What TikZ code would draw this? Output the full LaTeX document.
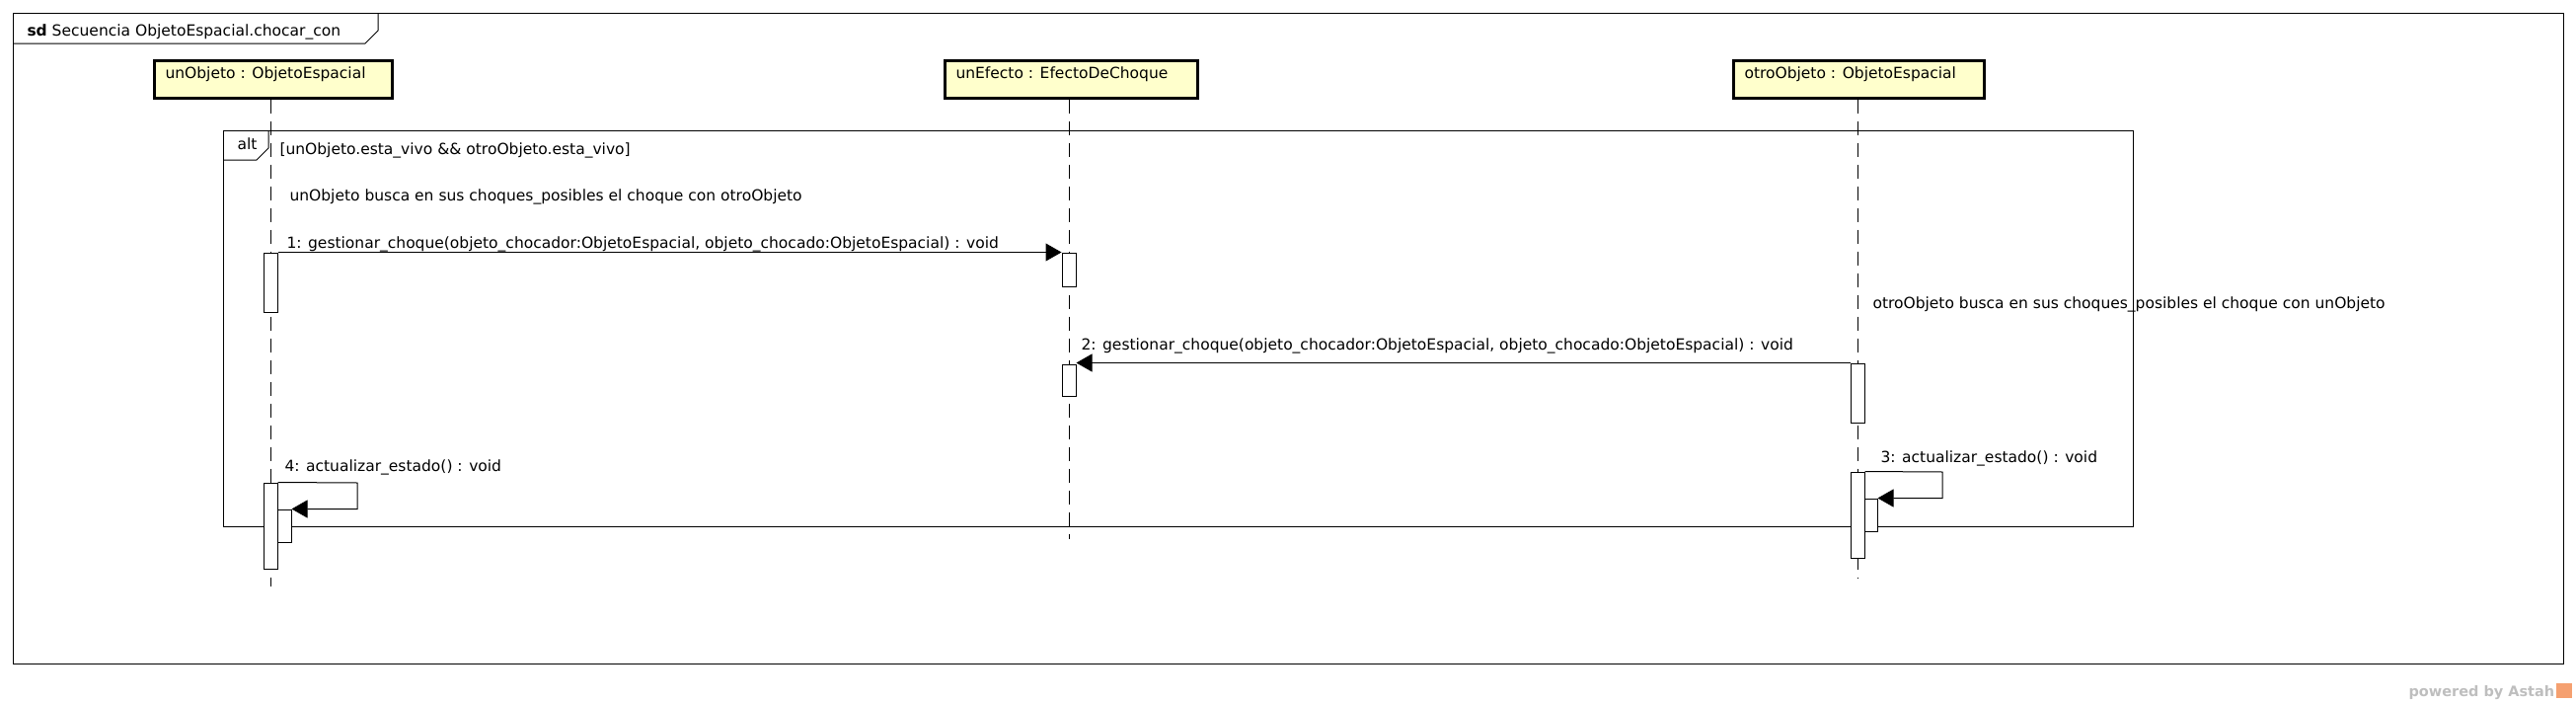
\documentclass[tikz,border=0pt]{standalone}
\usepackage{fontspec}
\setmainfont{DejaVu Sans}
\usetikzlibrary{arrows.meta}
\definecolor{boxfill}{RGB}{255,255,204}
\definecolor{wmgray}{RGB}{190,190,190}
\definecolor{wmorange}{RGB}{245,160,112}
\begin{document}
\begin{tikzpicture}[x=1pt,y=-1pt,line width=1pt,
  font=\fontsize{15.5}{18}\selectfont,
  lbox/.style={draw,line width=3pt,fill=boxfill,anchor=north west,inner sep=0pt,minimum width=241pt,minimum height=38pt},
  lbl/.style={anchor=base west,inner sep=0pt},
  lifeline/.style={dash pattern=on 14pt off 8pt},
  act/.style={draw,fill=white,inner sep=0pt,minimum width=14pt},
  msg/.style={-{Triangle[length=16pt,width=18pt]}},
  frm/.style={draw,line width=1pt}]
\useasboundingbox (0,0) rectangle (2610,712);

% outer frame
\draw[frm] (13,13) rectangle (2597,672);
\draw[frm] (13,44) -- (370,44) -- (383,31) -- (383,13);
\node[lbl] (sd) at (27,36) {\textbf{sd} Secuencia ObjetoEspacial.chocar\_con};

% lifeline heads
\node[lbox] (uo) at (154.5,59.5) {};
\node[lbl] (uot) at (167,79) {unObjeto : ObjetoEspacial};
\node[lbox,minimum width=256pt] (ue) at (955.5,59.5) {};
\node[lbl] (uet) at (968,79) {unEfecto : EfectoDeChoque};
\node[lbox,minimum width=254pt] (oo) at (1754.5,59.5) {};
\node[lbl] (oot) at (1767,79) {otroObjeto : ObjetoEspacial};

% lifeline ends
\coordinate (uoend) at (274,594);
\coordinate (ueend) at (1083,546);
\coordinate (ooend) at (1882,585);
\draw[lifeline] (uo.south -| uoend) -- (uoend);
\draw[lifeline] (ue.south -| ueend) -- (ueend);
\draw[lifeline] (oo.south -| ooend) -- (ooend);

% alt combined fragment
\draw[frm] (226,132) rectangle (2161,533);
\draw[frm] (272,132) -- (272,150) -- (260,162) -- (226,162);
\node[lbl] (alt) at (240,151) {alt};
\node[lbl] (guard) at (283,156) {[unObjeto.esta\_vivo \&\& otroObjeto.esta\_vivo]};

% notes
\node[lbl] (n1) at (293,203) {unObjeto busca en sus choques\_posibles el choque con otroObjeto};
\node[lbl] (n2) at (1897,312) {otroObjeto busca en sus choques\_posibles el choque con unObjeto};

% activations
\node[act,minimum height=60pt] (a1) at (274,286) {};
\node[act,minimum height=34pt] (b1) at (1083,273) {};
\node[act,minimum height=60pt] (c1) at (1882,398) {};
\node[act,minimum height=32pt] (b2) at (1083,385) {};
\node[act,minimum height=87pt] (c2) at (1882,521.5) {};
\node[act,minimum height=33pt,minimum width=13pt] (c3) at (1895.5,521.5) {};
\node[act,minimum height=87pt] (a2) at (274,532.5) {};
\node[act,minimum height=33pt] (a3) at (288,532.5) {};

% messages
\draw[msg] (a1.north east) -- (b1.north west);
\node[lbl] (m1) at (290,251) {1: gestionar\_choque(objeto\_chocador:ObjetoEspacial, objeto\_chocado:ObjetoEspacial) : void};

\draw[msg] (c1.north west) -- (c1.north west -| b2.east);
\node[lbl] (m2) at (1095,354) {2: gestionar\_choque(objeto\_chocador:ObjetoEspacial, objeto\_chocado:ObjetoEspacial) : void};

\coordinate (l3) at (1968,478);
\draw[msg] (c2.north east) -- (l3) |- (c3.north east);
\node[lbl] (m3) at (1905,468) {3: actualizar\_estado() : void};

\coordinate (l4) at (362,489);
\draw[msg] (a2.north east) -- (l4) |- (a3.north east);
\node[lbl] (m4) at (288,477) {4: actualizar\_estado() : void};

% watermark
\node[lbl,text=wmgray,font=\fontsize{14.5}{16}\selectfont\bfseries] (wm) at (2440,705) {powered by Astah};
\node[fill=wmorange,minimum width=16pt,minimum height=15pt,inner sep=0pt,anchor=west] (wmicon) at (2589,699) {};
\end{tikzpicture}
\end{document}
